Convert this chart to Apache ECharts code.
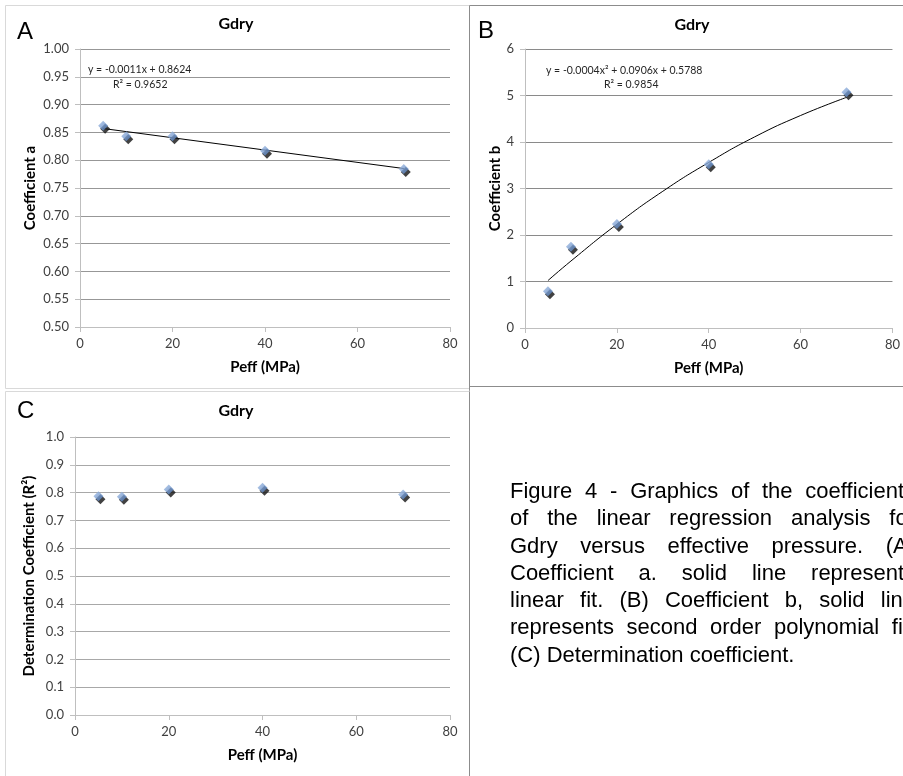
<!DOCTYPE html>
<html><head><meta charset="utf-8">
<script src="https://cdn.jsdelivr.net/npm/echarts@6/dist/echarts.min.js"></script>
<style>
html,body{margin:0;padding:0;background:#fff;overflow:hidden;width:903px;height:776px;}
#chart{position:absolute;left:0;top:0;width:903px;height:776px;}
#caption{position:absolute;left:510px;top:477px;width:405px;font-family:"Liberation Sans",Arial,sans-serif;font-size:22px;line-height:27.3px;color:#000;}
#caption div{white-space:nowrap;}
#caption div.j{text-align:justify;text-align-last:justify;}
</style></head><body>
<div id="chart"></div>
<div id="caption"></div>
<script>
// ---- data ----
const pressure = [5, 10, 20, 40, 70];
const coefA = [0.862, 0.843, 0.843, 0.817, 0.784];
const coefB = [0.79, 1.745, 2.235, 3.52, 5.07];
const detR2 = [0.787, 0.785, 0.811, 0.817, 0.793];
const fitAX = [5, 70];
const fitAY = [0.857, 0.785];
const fitBX = [5, 10, 20, 30, 40, 50, 60, 70];
const fitBY = [1.02, 1.44, 2.23, 2.94, 3.56, 4.11, 4.57, 4.96];
const xTicks = [0, 20, 40, 60, 80];
const panelTitles = ['Gdry', 'Gdry', 'Gdry'];
const panelLetters = ['A', 'B', 'C'];
const yNames = ['Coefficient a', 'Coefficient b', 'Determination Coefficient (R\u00b2)'];
const xName = 'Peff (MPa)';
const eqA = ['y = -0.0011x + 0.8624', 'R\u00b2 = 0.9652'];
const eqB = ['y = -0.0004x\u00b2 + 0.0906x + 0.5788', 'R\u00b2 = 0.9854'];
const captionLines = [
  'Figure 4 - Graphics of the coefficients',
  'of the linear regression analysis for',
  'Gdry versus effective pressure. (A)',
  'Coefficient a. solid line represents',
  'linear fit. (B) Coefficient b, solid line',
  'represents second order polynomial fit.',
  '(C) Determination coefficient.'
];

// caption
const cap = document.getElementById('caption');
captionLines.forEach((t, i) => {
  const d = document.createElement('div');
  d.textContent = t;
  if (i < captionLines.length - 1) d.className = 'j';
  cap.appendChild(d);
});

const FONT = 'Lato, "Open Sans", sans-serif';
const pairs = (xs, ys) => xs.map((x, i) => [x, ys[i]]);

const grids = [
  {left: 80, top: 49, width: 370, height: 278},
  {left: 525, top: 49, width: 370, height: 279},
  {left: 75, top: 437, width: 375, height: 278}
];

function xAxis(i) {
  return {
    gridIndex: i, type: 'value', min: 0, max: 80, interval: 20,
    axisLine: {show: true, onZero: false, lineStyle: {color: '#bfbfbf', width: 1}},
    axisTick: {show: true, length: 5, lineStyle: {color: '#bfbfbf'}},
    axisLabel: {color: '#404040', fontSize: 13, fontFamily: FONT, margin: 10,
      customValues: xTicks},
    splitLine: {show: false},
    name: xName, nameLocation: 'middle', nameGap: 33,
    nameTextStyle: {fontWeight: 'bold', fontSize: 15, fontFamily: FONT, color: '#000'}
  };
}
function yAxis(i, min, max, interval, dec, gridColor, gap) {
  return {
    gridIndex: i, type: 'value', min: min, max: max, interval: interval,
    axisLine: {show: true, onZero: false, lineStyle: {color: '#bfbfbf', width: 1}},
    axisTick: {show: true, length: 5, lineStyle: {color: '#bfbfbf'}},
    axisLabel: {color: '#404040', fontSize: 13, fontFamily: FONT, margin: 11,
      formatter: v => Number(v).toFixed(dec)},
    splitLine: {show: true, lineStyle: {color: gridColor, width: 1}},
    name: yNames[i], nameLocation: 'middle', nameGap: gap, nameRotate: 90,
    nameTextStyle: {fontWeight: 'bold', fontSize: 15, fontFamily: FONT, color: '#000'}
  };
}

const blueGrad = new echarts.graphic.LinearGradient(0, 0, 1, 1, [
  {offset: 0, color: '#a9c2e6'}, {offset: 1, color: '#4a78bb'}
]);

function markers(i, ys) {
  return [
    {type: 'scatter', xAxisIndex: i, yAxisIndex: i, data: pairs(pressure, ys),
      symbol: 'diamond', symbolSize: 10, symbolOffset: [2, 3], z: 3,
      itemStyle: {color: '#111'}, silent: true},
    {type: 'scatter', xAxisIndex: i, yAxisIndex: i, data: pairs(pressure, ys),
      symbol: 'diamond', symbolSize: 10, z: 4,
      itemStyle: {color: blueGrad}, silent: true}
  ];
}

const titleStyle = (x, y, t) => ({type: 'text', x: x, y: y, z: 10,
  style: {text: t, font: 'bold 16px ' + FONT, fill: '#000', textAlign: 'center', textVerticalAlign: 'middle'}});
const letterStyle = (x, y, t) => ({type: 'text', x: x, y: y, z: 10,
  style: {text: t, font: '24px "Liberation Sans", Arial, sans-serif', fill: '#000', textAlign: 'left', textVerticalAlign: 'middle'}});
const eqStyle = (x, y, t) => ({type: 'text', x: x, y: y, z: 10,
  style: {text: t, font: '10.5px ' + FONT, fill: '#262626', textAlign: 'left', textVerticalAlign: 'middle'}});
const line = (x1, y1, x2, y2, c) => ({type: 'line', z: 1, silent: true,
  shape: {x1: x1, y1: y1, x2: x2, y2: y2}, style: {stroke: c, lineWidth: 1}});

const option = {
  animation: false,
  backgroundColor: '#fff',
  grid: grids,
  xAxis: [xAxis(0), xAxis(1), xAxis(2)],
  yAxis: [
    yAxis(0, 0.5, 1.0, 0.05, 2, '#979797', 42),
    yAxis(1, 0, 6, 1, 0, '#8a8a8a', 22),
    yAxis(2, 0, 1.0, 0.1, 1, '#a8a8a8', 38)
  ],
  series: [
    ...markers(0, coefA),
    {type: 'line', xAxisIndex: 0, yAxisIndex: 0, data: pairs(fitAX, fitAY), symbol: 'none',
      lineStyle: {color: '#000', width: 1}, z: 2, silent: true},
    ...markers(1, coefB),
    {type: 'line', xAxisIndex: 1, yAxisIndex: 1, data: pairs(fitBX, fitBY), symbol: 'none', smooth: true,
      lineStyle: {color: '#000', width: 1}, z: 2, silent: true},
    ...markers(2, detR2)
  ],
  graphic: [
    // panel borders
    line(5.5, 5.5, 469.5, 5.5, '#d9d9d9'),
    line(5.5, 5.5, 5.5, 388.5, '#d9d9d9'),
    line(5.5, 388.5, 469.5, 388.5, '#d9d9d9'),
    line(469.5, 5.5, 903, 5.5, '#8c8c8c'),
    line(469.5, 5.5, 469.5, 776, '#8c8c8c'),
    line(469.5, 386.5, 903, 386.5, '#8c8c8c'),
    line(5.5, 391.5, 469.5, 391.5, '#d9d9d9'),
    line(5.5, 391.5, 5.5, 776, '#d9d9d9'),
    titleStyle(236, 24, panelTitles[0]),
    titleStyle(692, 25, panelTitles[1]),
    titleStyle(236, 411, panelTitles[2]),
    letterStyle(17, 32, panelLetters[0]),
    letterStyle(478, 31, panelLetters[1]),
    letterStyle(17, 411, panelLetters[2]),
    eqStyle(88, 70, eqA[0]),
    eqStyle(113, 85, eqA[1]),
    eqStyle(546, 71, eqB[0]),
    eqStyle(604, 85, eqB[1])
  ]
};

const chart = echarts.init(document.getElementById('chart'), null, {renderer: 'canvas'});
chart.setOption(option);
</script>
</body></html>
